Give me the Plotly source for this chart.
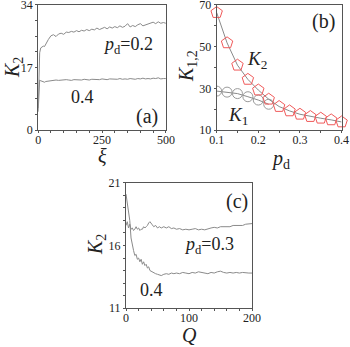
import plotly.graph_objects as go

# panel (a): K2 vs xi
xi = [0, 3, 6, 10, 15, 20, 25, 30, 40, 50, 60, 70, 80, 90, 100, 110, 120, 130, 140, 150,
      160, 170, 180, 190, 200, 210, 220, 230, 240, 250, 260, 270, 280, 290, 300, 310, 320,
      330, 340, 350, 360, 370, 380, 390, 400, 410, 420, 430, 440, 450, 460, 470, 480, 490, 500]
k2_a_02 = [6, 16, 21, 22.3, 22.6, 22.8, 22.7, 23.4, 24.6, 25.6, 25.9, 25.4, 26.1, 26.3, 26.0,
           26.6, 26.5, 26.8, 26.6, 27.0, 26.7, 27.1, 26.9, 27.3, 27.0, 27.4, 27.2, 27.7, 27.3,
           27.6, 27.9, 27.5, 28.0, 27.7, 28.1, 27.8, 28.3, 27.9, 28.2, 28.9, 28.0, 28.4, 28.1,
           28.6, 28.9, 28.3, 28.6, 28.8, 29.0, 29.3, 28.9, 29.4, 29.0, 29.2, 29.0]
k2_a_04 = [5, 12.5, 13.6, 13.4, 13.2, 13.1, 13.0, 13.2, 13.3, 13.5, 13.4, 13.6, 13.5, 13.6,
           13.5, 13.7, 13.6, 13.5, 13.7, 13.6, 13.7, 13.6, 13.8, 13.7, 13.6, 13.8, 13.7, 13.8,
           13.7, 13.9, 13.8, 13.7, 13.9, 13.8, 13.9, 13.8, 14.0, 13.8, 13.9, 13.8, 14.0, 13.9,
           13.8, 14.0, 13.9, 14.1, 13.9, 14.0, 13.9, 14.1, 14.0, 14.2, 13.9, 14.0, 14.0]

# panel (b): K1, K2 vs pd
pd_k2 = [0.1, 0.125, 0.15, 0.175, 0.2, 0.225, 0.25, 0.275, 0.3, 0.325, 0.35, 0.375, 0.4]
k2_b = [66.3, 51.8, 41.1, 34.3, 29.2, 24.8, 21.3, 19.2, 17.6, 16.5, 15.7, 14.9, 13.9]
pd_k1 = [0.1, 0.125, 0.15, 0.175, 0.2, 0.225]
k1_b = [28.7, 28.2, 27.5, 26.0, 24.4, 22.4]

# panel (c): K2 vs Q
q = [0, 2, 4, 6, 8, 10, 12, 14, 16, 18, 20, 22, 24, 26, 28, 30, 32, 34, 36, 38, 41, 44, 47,
     50, 53, 56, 60, 64, 68, 72, 76, 80, 85, 90, 95, 100, 105, 110, 115, 120, 125, 130, 135,
     140, 145, 150, 155, 160, 165, 170, 175, 180, 185, 190, 195, 200]
k2_c_03 = [17.6, 17.9, 17.4, 17.7, 17.3, 17.4, 17.2, 17.3, 17.5, 17.3, 17.4, 17.2, 17.3, 17.3,
           17.5, 17.4, 17.5, 17.6, 17.8, 17.9, 17.7, 17.5, 17.6, 17.4, 17.5, 17.4, 17.5, 17.4,
           17.5, 17.35, 17.4, 17.3, 17.35, 17.25, 17.3, 17.25, 17.3, 17.35, 17.25, 17.3, 17.25,
           17.35, 17.4, 17.45, 17.4, 17.5, 17.5, 17.55, 17.5, 17.6, 17.6, 17.65, 17.6, 17.7,
           17.7, 17.75]
k2_c_04 = [20.1, 19.5, 18.9, 18.0, 16.6, 15.9, 15.6, 15.2, 15.3, 14.9, 15.0, 14.7, 14.9, 14.5,
           14.7, 14.4, 14.5, 14.2, 14.3, 14.0, 13.9, 13.8, 13.75, 13.7, 13.65, 13.6, 13.7, 13.75,
           13.7, 13.8, 13.75, 13.8, 13.75, 13.85, 13.8, 13.75, 13.85, 13.8, 13.9, 13.85, 13.8,
           13.75, 13.85, 13.8, 13.9, 13.95, 13.85, 13.8, 13.85, 13.8, 13.85, 13.8, 13.85, 13.8,
           13.8, 13.8]

line_gray = '#8a8a8a'
frame = '#555555'
serif = 'Liberation Serif'
W, H = 350, 347

fig = go.Figure()

fig.add_trace(go.Scatter(x=xi, y=k2_a_02, mode='lines', line=dict(color=line_gray, width=1),
                         xaxis='x', yaxis='y'))
fig.add_trace(go.Scatter(x=xi, y=k2_a_04, mode='lines', line=dict(color=line_gray, width=1),
                         xaxis='x', yaxis='y'))

fig.add_trace(go.Scatter(x=pd_k1, y=k1_b, mode='lines+markers', line=dict(color=line_gray, width=1),
                         marker=dict(symbol='circle-open', size=10, color='#9a9a9a', line=dict(width=1)),
                         xaxis='x2', yaxis='y2'))
fig.add_trace(go.Scatter(x=pd_k2, y=k2_b, mode='lines+markers', line=dict(color=line_gray, width=1),
                         marker=dict(symbol='pentagon-open', size=12, color='#f05a5a', line=dict(width=1)),
                         xaxis='x2', yaxis='y2', cliponaxis=False))

fig.add_trace(go.Scatter(x=q, y=k2_c_03, mode='lines', line=dict(color=line_gray, width=1),
                         xaxis='x3', yaxis='y3'))
fig.add_trace(go.Scatter(x=q, y=k2_c_04, mode='lines', line=dict(color=line_gray, width=1),
                         xaxis='x3', yaxis='y3'))

def axis(**kw):
    d = dict(showline=True, mirror=True, linecolor=frame, linewidth=1, showgrid=False,
             zeroline=False, ticks='outside', ticklen=2, tickcolor=frame, automargin=False,
             ticklabeloverflow='allow',
             tickfont=dict(family=serif, size=12, color='#222'))
    d.update(kw)
    return d

def minor(step):
    return dict(dtick=step, ticks='outside', ticklen=2, tickcolor=frame)

fig.update_layout(
    width=W, height=H,
    margin=dict(l=0, r=0, t=0, b=0),
    plot_bgcolor='white', paper_bgcolor='white',
    showlegend=False,
    font=dict(family=serif, color='#222'),
    xaxis=axis(domain=[0.109, 0.474], anchor='y', range=[0, 500], tickvals=[0, 250, 500],
               minor=minor(50), ticklabelstandoff=-4),
    yaxis=axis(domain=[0.625, 0.986], anchor='x', range=[0, 34], tickvals=[0, 17, 34],
               minor=minor(4.25)),
    xaxis2=axis(domain=[0.619, 0.976], anchor='y2', range=[0.1, 0.4],
                tickvals=[0.1, 0.2, 0.3, 0.4], minor=minor(0.05), ticklabelstandoff=-4),
    yaxis2=axis(domain=[0.625, 0.986], anchor='x2', range=[10, 70], tickvals=[10, 30, 50, 70],
                minor=minor(10)),
    xaxis3=axis(domain=[0.36, 0.72], anchor='y3', range=[0, 200], tickvals=[0, 100, 200],
                minor=minor(20), ticklabelstandoff=-4),
    yaxis3=axis(domain=[0.112, 0.473], anchor='x3', range=[11, 21], tickvals=[11, 16, 21],
                minor=minor(1)),
)

def note(text, x, y, xr, yr, size=18, angle=0):
    fig.add_annotation(text=text, x=x, y=y, xref=xr, yref=yr, showarrow=False,
                       xanchor='center', yanchor='middle',
                       textangle=angle, font=dict(family=serif, size=size, color='#222'))

# axis titles, placed in pixels from the top-left corner
def title(text, px, py, angle=0):
    note(text, px / W, 1 - py / H, 'paper', 'paper', 20, angle)

title('<i>ξ</i>', 102, 156)
title('<i>K</i><sub>2</sub>', 13, 68, -90)
title('<i>p</i><sub>d</sub>', 280, 159)
title('<i>K</i><sub>1,2</sub>', 187, 66, -90)
title('<i>Q</i>', 189, 335)
title('<i>K</i><sub>2</sub>', 97, 245, -90)

note('<i>p</i><sub>d</sub>=0.2', 350, 23.1, 'x', 'y')
note('0.4', 175, 9, 'x', 'y')
note('(a)', 425, 3.8, 'x', 'y', 20)
note('(b)', 0.356, 62, 'x2', 'y2', 20)
note('<i>K</i><sub>2</sub>', 0.196, 43.8, 'x2', 'y2', 19)
note('<i>K</i><sub>1</sub>', 0.152, 16.8, 'x2', 'y2', 19)
note('(c)', 176, 19.5, 'x3', 'y3', 20)
note('<i>p</i><sub>d</sub>=0.3', 131, 16.0, 'x3', 'y3')
note('0.4', 41, 12.45, 'x3', 'y3')

# page body has a default 8px margin; drop it so the figure fills the window
fig.write_html("out.html", config={'displayModeBar': False},
               post_script="document.body.style.margin = '0';")
